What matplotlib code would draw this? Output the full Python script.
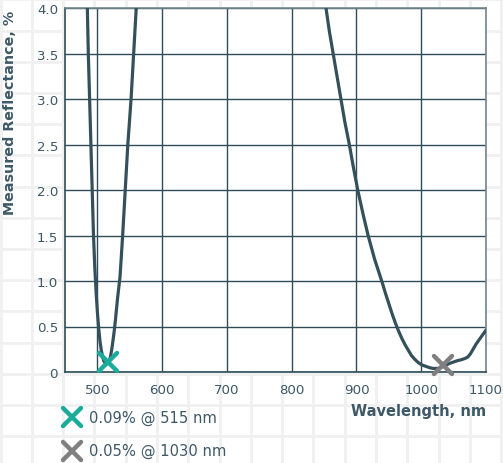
import numpy as np
import matplotlib
matplotlib.use("Agg")
import matplotlib.pyplot as plt
from matplotlib.lines import Line2D
from matplotlib.markers import MarkerStyle

# measured reflectance (nm, %)
wl_vis = [483, 484.5, 486, 488, 490, 492, 494, 496, 498, 500, 502, 504, 506, 508,
          510, 512, 514, 516, 518, 520, 522, 524, 526, 528, 531, 535, 539, 543,
          547, 552, 556, 560, 563]
refl_vis = [4.4, 4.0, 3.5, 3.0, 2.5, 2.0, 1.5, 1.15, 0.88, 0.66, 0.48, 0.34, 0.24, 0.17,
            0.12, 0.1, 0.09, 0.09, 0.11, 0.16, 0.24, 0.34, 0.45, 0.58, 0.8, 1.05, 1.5, 2.0,
            2.5, 3.0, 3.5, 4.0, 4.4]

wl_ir = [848, 853, 858, 864, 870, 876, 882, 889, 895, 902, 910, 918, 928, 939,
         945, 950, 955, 960, 965, 970, 975, 980, 985, 990, 996, 1002, 1008,
         1014, 1020, 1026, 1032, 1038, 1044, 1050, 1056, 1062, 1068, 1072,
         1076, 1080, 1085, 1090, 1095, 1100]
refl_ir = [4.3, 4.0, 3.75, 3.5, 3.25, 3.0, 2.75, 2.5, 2.26, 2.0, 1.74, 1.5, 1.24, 1.0,
           0.86, 0.75, 0.64, 0.54, 0.45, 0.37, 0.3, 0.24, 0.18, 0.14, 0.1, 0.075, 0.06,
           0.045, 0.038, 0.04, 0.055, 0.075, 0.095, 0.11, 0.125, 0.135, 0.15, 0.165,
           0.2, 0.25, 0.31, 0.36, 0.41, 0.46]

mark_wl = [517, 1033]
mark_refl = [0.11, 0.08]
mark_labels = ["0.09% @ 515 nm", "0.05% @ 1030 nm"]
mark_colors = ["#1aab9b", "#7f7f7f"]

x_ticks = [500, 600, 700, 800, 900, 1000, 1100]
y_ticks = [0, 0.5, 1.0, 1.5, 2.0, 2.5, 3.0, 3.5, 4.0]
y_ticklabels = ["0", "0.5", "1.0", "1.5", "2.0", "2.5", "3.0", "3.5", "4.0"]

DARK = "#2f4d59"
TEXT = "#3d5866"
W, H = 503, 464

plt.rcParams["font.family"] = ["DejaVu Sans"]

fig = plt.figure(figsize=(W / 100, H / 100), dpi=100)
fig.patch.set_facecolor("white")

# faint graph-paper background
bg = fig.add_axes([0, 0, 1, 1], zorder=-5)
bg.set_xlim(0, W)
bg.set_ylim(H, 0)
bg.axis("off")
for gx in np.arange(0.5, W, 31.3):
    bg.axvline(gx, color="#f0f0f0", lw=2.0)
for gy in np.arange(0.4, H, 31.2):
    bg.axhline(gy, color="#f0f0f0", lw=2.0)

ax = fig.add_axes([65 / W, 1 - 373 / H, (486 - 65) / W, (373 - 9) / H])
ax.set_facecolor("white")
ax.set_xlim(450, 1100)
ax.set_ylim(0, 4.0)
ax.set_xticks(x_ticks)
ax.set_yticks(y_ticks)
ax.set_yticklabels(y_ticklabels)
ax.tick_params(length=0, labelsize=9.6, labelcolor=TEXT)
ax.tick_params(axis="x", pad=8)
ax.tick_params(axis="y", pad=5)
ax.grid(True, color=DARK, lw=1.0)
ax.set_axisbelow(True)
for s in ("left", "bottom"):
    ax.spines[s].set_color(DARK)
    ax.spines[s].set_linewidth(1.2)
for s in ("top", "right"):
    ax.spines[s].set_color("#74878f")
    ax.spines[s].set_linewidth(1.2)

ax.plot(wl_vis, refl_vis, color="#33505b", lw=2.3, solid_capstyle="round",
        solid_joinstyle="round", zorder=3)
ax.plot(wl_ir, refl_ir, color="#33505b", lw=2.3, solid_capstyle="round",
        solid_joinstyle="round", zorder=3)

xm = MarkerStyle("x", capstyle="round")
for x, y, c in zip(mark_wl, mark_refl, mark_colors):
    ax.plot([x], [y], marker=xm, ms=13, mew=3.2, color=c, ls="none",
            zorder=4, clip_on=False)

ax.set_xlabel("Wavelength, nm", fontsize=10.5, fontweight="bold", color=TEXT)
ax.xaxis.set_label_coords(1.0, -0.085)
ax.xaxis.label.set_ha("right")
ax.set_ylabel("Measured Reflectance, %", fontsize=10.3, fontweight="bold",
              color=TEXT, loc="top")
ax.yaxis.set_label_coords(-0.115, 0.995)

# legend below the plot
for i, (lab, c) in enumerate(zip(mark_labels, mark_colors)):
    ypix = 418 + i * 33.5
    fig.add_artist(Line2D([71.5 / W], [1 - ypix / H], marker=xm, ms=13, mew=3.2,
                          color=c, ls="none", transform=fig.transFigure))
    fig.text(89 / W, 1 - ypix / H, lab, fontsize=10.6, color=TEXT,
             va="center", ha="left")

fig.savefig("out.png", dpi=100)
